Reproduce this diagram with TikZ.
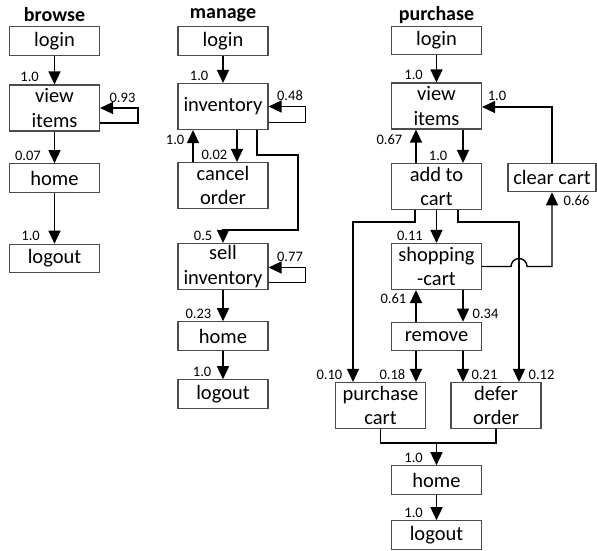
\documentclass[tikz,border=0pt]{standalone}
\usepackage{fontspec}
\setmainfont{Carlito}
\usetikzlibrary{arrows.meta}

\begin{document}
\begin{tikzpicture}[x=1pt,y=-1pt,>={Triangle[length=13pt,width=12pt]},
    line width=1.4pt, every node/.style={inner sep=0pt},
    box/.style={draw=black!70,line width=1.1pt,minimum width=90pt,align=center,
      font=\fontsize{20.5}{24.5}\selectfont},
    one/.style={box,minimum height=28.5pt},
    two/.style={box,minimum height=46pt},
    lbl/.style={font=\fontsize{14.5}{14.5}\selectfont},
    title/.style={font=\fontsize{20}{20}\selectfont\bfseries}]
  \useasboundingbox (0,0) rectangle (597,551);

  % browse
  \node[title] (b-title) at (54.5,15) {browse};
  \node[one] (b-login) at (54.5,41) {login};
  \node[two] (b-view) at (54.5,108) {view\\items};
  \node[one] (b-home) at (54.5,178) {home};
  \node[one] (b-logout) at (54.5,258.5) {logout};

  \draw[->] (b-login) -- node[lbl,pos=1,anchor=south east,xshift=-15pt,yshift=2pt] (b-l1) {1.0} (b-view);
  \draw[->] ([yshift=-15pt]b-view.east) -- ++(38,0) |- node[lbl,pos=0.5,anchor=south east,xshift=-2pt,yshift=5pt] (b-l2) {0.93} (b-view.east);
  \draw[->] (b-view) -- node[lbl,pos=1,anchor=south east,xshift=-13pt,yshift=2pt] (b-l3) {0.07} (b-home);
  \draw[->] (b-home) -- node[lbl,pos=1,anchor=south east,xshift=-14pt,yshift=2pt] (b-l4) {1.0} (b-logout);

  % manage
  \node[title] (m-title) at (223,15) {manage};
  \node[one] (m-login) at (223,41) {login};
  \node[two] (m-inv) at (223,106.5) {inventory};
  \node[two] (m-cancel) at (223,185.5) {cancel\\order};
  \node[two] (m-sell) at (223,266.5) {sell\\inventory};
  \node[one] (m-home) at (223,336) {home};
  \node[one] (m-logout) at (223,394) {logout};

  \draw[->] (m-login) -- node[lbl,pos=1,anchor=south east,xshift=-14pt,yshift=2pt] (m-l1) {1.0} (m-inv);
  \draw[->] ([yshift=-16pt]m-inv.east) -- ++(37,0) |- node[lbl,pos=0.5,anchor=south east,xshift=-2pt,yshift=5pt] (m-l2) {0.48} (m-inv.east);
  \draw[->] ([xshift=14pt]m-inv.south) -- node[lbl,pos=1,anchor=south east,xshift=-9pt,yshift=2pt] (m-l3) {0.02} ([xshift=14pt]m-cancel.north);
  \draw[->] ([xshift=-30pt]m-cancel.north) -- node[lbl,pos=1,anchor=north east,xshift=-8pt,yshift=-4pt] (m-l4) {1.0} ([xshift=-30pt]m-inv.south);
  \draw[->] ([xshift=34pt]m-inv.south) -- ++(0,25) -- ++(41,0) -- ++(0,75) -| node[lbl,pos=1,anchor=south east,xshift=-10pt,yshift=2pt] (m-l5) {0.5} (m-sell.north);
  \draw[->] ([yshift=-16pt]m-sell.east) -- ++(37,0) |- node[lbl,pos=0.5,anchor=south east,xshift=-2pt,yshift=5pt] (m-l6) {0.77} ([yshift=-1pt]m-sell.east);
  \draw[->] (m-sell) -- node[lbl,pos=1,anchor=south east,xshift=-11pt,yshift=2pt] (m-l7) {0.23} (m-home);
  \draw[->] (m-home) -- node[lbl,pos=1,anchor=south east,xshift=-11pt,yshift=2pt] (m-l8) {1.0} (m-logout);

  % purchase
  \node[title] (p-title) at (436.5,15) {purchase};
  \node[one] (p-login) at (436.5,40.5) {login};
  \node[two] (p-view) at (436.5,106) {view\\items};
  \node[two] (p-add) at (436.5,186.5) {add to\\cart};
  \node[one,minimum width=88pt] (p-clear) at (552,177.5) {clear cart};
  \node[two] (p-shop) at (436.5,266.5) {shopping\\-cart};
  \node[one] (p-remove) at (436.5,336.5) {remove};
  \node[two] (p-purch) at (380.5,405.5) {purchase\\cart};
  \node[two] (p-defer) at (496,405.5) {defer\\order};
  \node[one] (p-home) at (436.5,480) {home};
  \node[one] (p-logout) at (436.5,535) {logout};

  \draw[->] (p-login) -- node[lbl,pos=1,anchor=south east,xshift=-13pt,yshift=2pt] (p-l1) {1.0} (p-view);
  \draw[->] ([xshift=26.5pt]p-view.south) -- node[lbl,pos=1,anchor=south east,xshift=-15pt,yshift=2pt] (p-l2) {1.0} ([xshift=26.5pt]p-add.north);
  \draw[->] ([xshift=-20.5pt]p-add.north) -- node[lbl,pos=1,anchor=north east,xshift=-13pt,yshift=-4pt] (p-l3) {0.67} ([xshift=-20.5pt]p-view.south);
  \draw[->] (p-clear.north) |- node[lbl,pos=1,anchor=south west,xshift=5pt,yshift=6pt] (p-l4) {1.0} ([yshift=-1pt]p-view.east);
  \draw[->] (p-add) -- node[lbl,pos=1,anchor=south east,xshift=-13pt,yshift=2pt] (p-l5) {0.11} (p-shop);
  \draw[->] ([xshift=-21.5pt]p-add.south) -- ++(0,12) -| node[lbl,pos=1,anchor=south east,xshift=-10pt,yshift=2pt] (p-l6) {0.10} ([xshift=-27.5pt]p-purch.north);
  \draw[->] ([xshift=21.5pt]p-add.south) -- ++(0,12) -| node[lbl,pos=1,anchor=south west,xshift=9pt,yshift=2pt] (p-l7) {0.12} ([xshift=23pt]p-defer.north);
  \draw[->] (p-shop.east) -- ++(29,0) arc[start angle=180,end angle=0,radius=8pt] -| node[lbl,pos=1,anchor=north west,xshift=11pt,yshift=-3pt] (p-l8) {0.66} (p-clear.south);
  \draw[->] ([xshift=26.5pt]p-shop.south) -- node[lbl,pos=1,anchor=south west,xshift=9pt,yshift=2pt] (p-l9) {0.34} ([xshift=26.5pt]p-remove.north);
  \draw[->] ([xshift=-20.5pt]p-remove.north) -- node[lbl,pos=1,anchor=north east,xshift=-9pt,yshift=-3pt] (p-l10) {0.61} ([xshift=-20.5pt]p-shop.south);
  \draw[->] ([xshift=-20.5pt]p-remove.south) -- node[lbl,pos=1,anchor=south east,xshift=-10pt,yshift=2pt] (p-l11) {0.18} ([xshift=35.5pt]p-purch.north);
  \draw[->] ([xshift=26.5pt]p-remove.south) -- node[lbl,pos=1,anchor=south west,xshift=8pt,yshift=2pt] (p-l12) {0.21} ([xshift=-33pt]p-defer.north);
  \draw (p-purch.south) -- ++(0,14) coordinate (p-bend) -| (p-defer.south);
  \draw[->] (p-bend -| p-home.north) -- node[lbl,pos=1,anchor=south east,xshift=-13pt,yshift=2pt] (p-l13) {1.0} (p-home.north);
  \draw[->] (p-home) -- node[lbl,pos=1,anchor=south east,xshift=-13pt,yshift=2pt] (p-l14) {1.0} (p-logout);
\end{tikzpicture}
\end{document}
